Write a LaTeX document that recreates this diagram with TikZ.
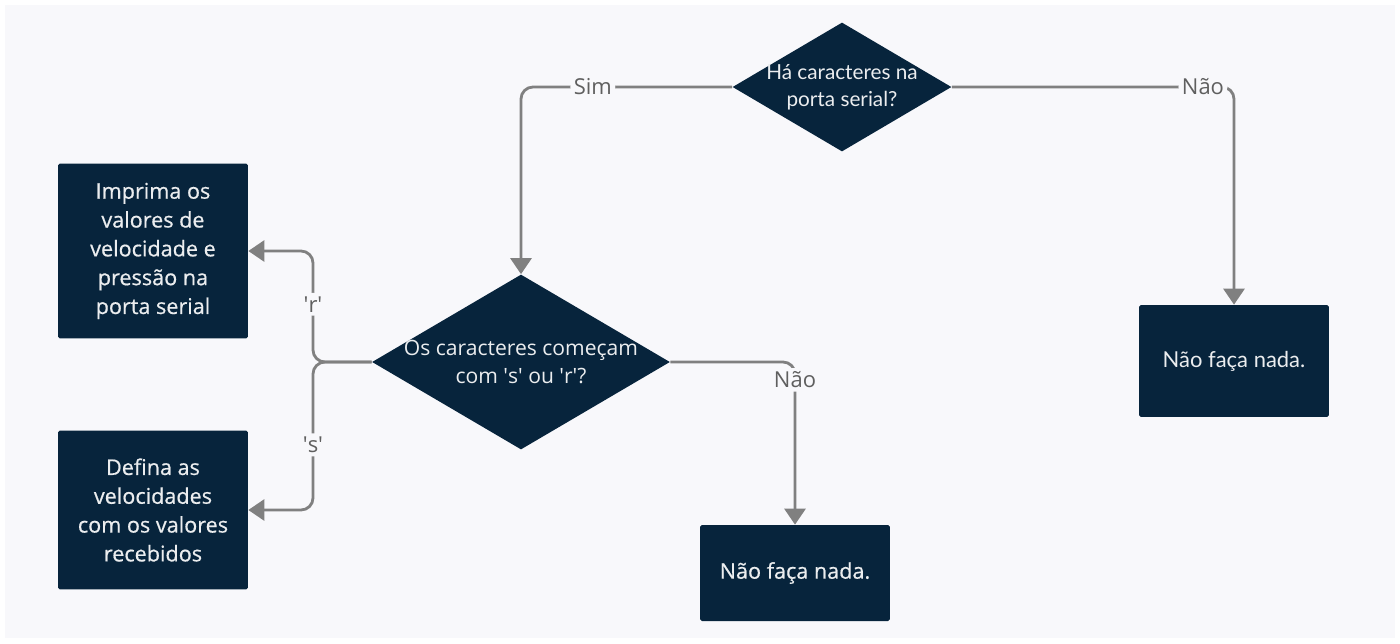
\documentclass[tikz,border=0pt]{standalone}
\usepackage{fontspec}
\setmainfont{Open Sans}
\newfontfamily\latofont{Lato}
\newfontfamily\boxfont{Open Sans}[FakeBold=0.6]
\usetikzlibrary{positioning,arrows.meta,shapes.geometric}
\definecolor{navy}{RGB}{7,36,60}
\definecolor{bgpage}{RGB}{248,248,251}
\definecolor{linegray}{RGB}{128,128,128}
\definecolor{lblgray}{RGB}{95,95,95}

\begin{document}
\begin{tikzpicture}[x=0.02cm, y=-0.02cm,
  box/.style={fill=navy, text=white!92!navy, minimum width=3.8cm, align=center, inner sep=2pt,
              font=\boxfont\fontsize{12.3}{16.4}\selectfont, rounded corners=1pt},
  decision/.style={diamond, fill=navy, aspect=1.7, inner sep=0pt},
  dtext/.style={text=white!92!navy, align=center, inner sep=0pt, font=\fontsize{12}{16.4}\selectfont},
  flow/.style={-{Triangle[length=0.32cm,width=0.42cm]}, linegray, line width=1.6pt, rounded corners=0.24cm},
  lbl/.style={font=\fontsize{12.5}{15}\selectfont, text=lblgray, fill=bgpage, inner sep=2pt}]
% page and background
\useasboundingbox[fill=white] (0,0) rectangle (1400,643);
\fill[bgpage] (5,5) rectangle (1395,638);

% decisions
\node[decision, minimum width=4.38cm, minimum height=2.58cm,
      label={[dtext, font=\latofont\fontsize{11.8}{15.5}\selectfont]center:Há caracteres na\\porta serial?}] (q1) at (842,87) {};
\node[decision, minimum width=5.96cm, minimum height=3.5cm,
      label={[dtext]center:Os caracteres começam\\com \textquotesingle s\textquotesingle{} ou \textquotesingle r\textquotesingle?}] (q2) at (521,362) {};

% actions
\node[box, minimum height=2.24cm, font=\latofont\fontsize{12.5}{16}\selectfont] (nao1) at (1234,361) {Não faça nada.};
\node[box, minimum height=1.92cm] (nao2) at (795,573) {Não faça nada.};
\node[box, minimum height=3.5cm] (imp) at (153,251) {Imprima os\\valores de\\velocidade e\\pressão na\\porta serial};
\node[box, minimum height=3.18cm] (def) at (153,510) {Defina as\\velocidades\\com os valores\\recebidos};

% connectors
\coordinate (fork) at (313,362);
\draw[flow] (q1.west) -| node[lbl, pos=0.33] {Sim} (q2.north);
\draw[flow] (q1.east) -| node[lbl, pos=0.445] {Não} (nao1.north);
\draw[flow] (q2.east) -| node[lbl, pos=0.555] {Não} (nao2.north);
\draw[flow] (q2.west) -- (fork) |- node[lbl, pos=0.26] {\textquotesingle r\textquotesingle} (imp.east);
\draw[flow] (q2.west) -- (fork) |- node[lbl, pos=0.28] {\textquotesingle s\textquotesingle} (def.east);
\end{tikzpicture}
\end{document}
